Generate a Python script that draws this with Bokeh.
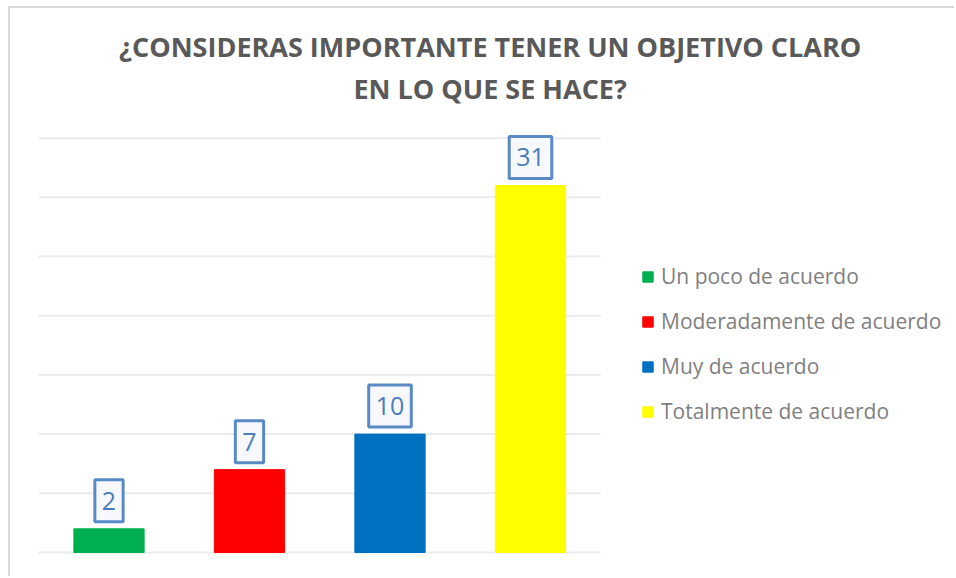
from bokeh.plotting import figure
from bokeh.models import Range1d, Label, ColumnDataSource, Legend, LegendItem
from bokeh.embed import file_html
from bokeh.resources import INLINE

categories = ["Un poco de acuerdo", "Moderadamente de acuerdo", "Muy de acuerdo", "Totalmente de acuerdo"]
values = [2, 7, 10, 31]
colors = ["#00B050", "#FF0000", "#0070C0", "#FFFF00"]
title_lines = ["¿CONSIDERAS IMPORTANTE TENER UN OBJETIVO CLARO", "EN LO QUE SE HACE?"]
y_ticks = [0, 5, 10, 15, 20, 25, 30, 35]

xs = [i + 1 for i in range(len(categories))]
src = ColumnDataSource(dict(x=xs, top=values, color=colors, cat=categories))

p = figure(width=946, height=570, output_backend="svg", toolbar_location=None,
           x_range=Range1d(0.299, 7.032), y_range=Range1d(-2.196, 45.95),
           min_border_left=0, min_border_right=0, min_border_top=0, min_border_bottom=0)
p.styles = {"margin-left": "8px", "margin-top": "6px",
            "border-left": "2px solid #D9D9D9", "border-top": "2px solid #D9D9D9"}
p.outline_line_color = None
p.xaxis.visible = False
p.yaxis.visible = False
p.xgrid.visible = False
p.ygrid.visible = False

# horizontal gridlines across the plot area
p.segment(x0=[0.5] * len(y_ticks), x1=[4.5] * len(y_ticks), y0=y_ticks, y1=y_ticks,
          line_color="#EBEBEB", line_width=2)

r = p.vbar(x="x", top="top", width=0.5, color="color", source=src)

for x, v in zip(xs, values):
    # soft shadow
    p.add_layout(Label(x=x, y=v, text=str(v), x_offset=2, y_offset=25,
                       text_align="center", text_baseline="middle",
                       text_font="Open Sans", text_font_size="25px", text_alpha=0,
                       background_fill_color="#8FA9CC", background_fill_alpha=0.25,
                       padding=dict(left=8, right=8, top=13, bottom=13)))
    p.add_layout(Label(x=x, y=v, text=str(v), y_offset=28,
                       text_align="center", text_baseline="middle",
                       text_font="Open Sans", text_font_size="25px", text_color="#4A7EBB",
                       background_fill_color="#F6F8FB", border_line_color="#5A8AC6",
                       border_line_width=3, padding=dict(left=7, right=7, top=12, bottom=12)))

ys = [42.7, 39.2]
for t, yy in zip(title_lines, ys):
    p.add_layout(Label(x=3.713, y=yy, text=t, text_align="center", text_baseline="middle",
                       text_font="Open Sans", text_font_style="bold", text_font_size="27px",
                       text_color="#595959"))

items = [LegendItem(label=c, renderers=[r], index=i) for i, c in enumerate(categories)]
legend = Legend(items=items, location=(631, 153), padding=0, margin=0,
                border_line_color=None, background_fill_alpha=0,
                glyph_width=13, glyph_height=13, label_height=20, spacing=17,
                label_text_font="Open Sans", label_text_font_size="21px",
                label_text_color="#7F7F7F", label_standoff=7)
p.add_layout(legend)

open("out.html", "w").write(file_html(p, INLINE))
